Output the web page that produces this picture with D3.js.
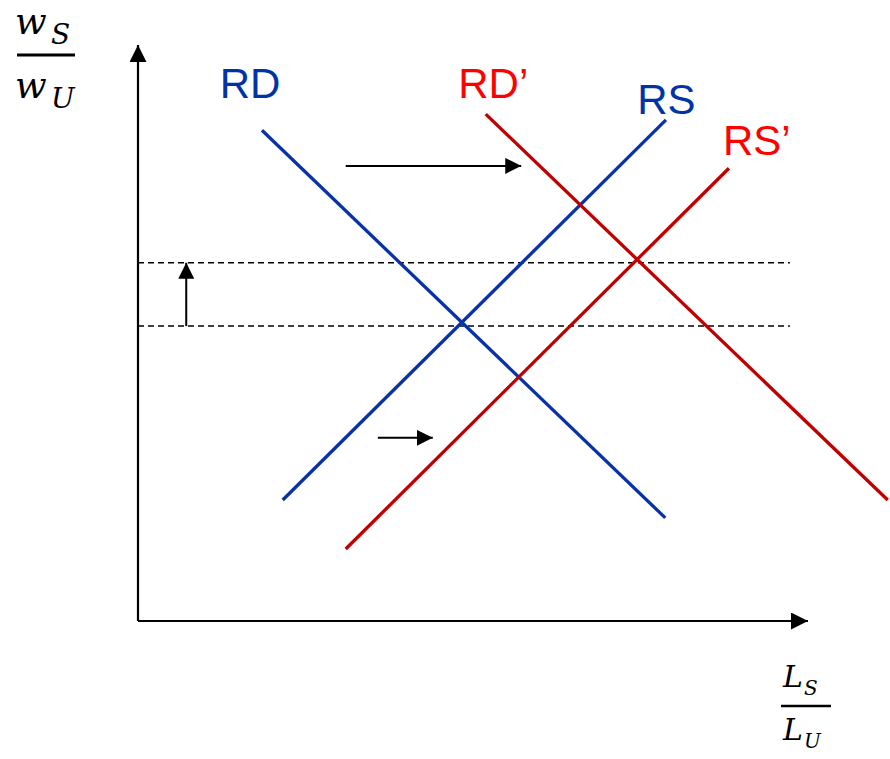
<!DOCTYPE html>
<html><head><meta charset="utf-8">
<script src="https://cdn.jsdelivr.net/npm/d3@7"></script>
<style>body{margin:0;background:#fff}svg{display:block}</style>
</head><body><svg id="c" width="890" height="759"></svg>
<script>
// ---- data (chart units) ----
const curveNames = ["RD", "RS", "RD’", "RS’"];
const curveStart = [[18.5, 85.2], [21.6, 21.0], [51.9, 88.0], [31.0, 12.5]];
const curveEnd   = [[78.7, 17.9], [78.8, 87.0], [111.9, 21.0], [88.2, 78.6]];
const curveGroup = ["before", "before", "after", "after"];
const labelAnchor = [[12.2, 90.8], [74.5, 88.0], [47.8, 90.8], [87.3, 80.9]];
const wageLevels = [51.2, 62.2];
const dashedExtent = [0, 97.3];
const shiftFrom = [[31.0, 79.0], [35.8, 31.8], [7.2, 51.2]];
const shiftTo   = [[57.2, 79.0], [44.0, 31.8], [7.2, 62.2]];

const lineColor = {before: "#0a32a8", after: "#c00000"};
const textColor = {before: "#0033a6", after: "#ff0000"};

const svg = d3.select("#c");
const x = d3.scaleLinear().domain([0, 100]).range([138, 808]);
const y = d3.scaleLinear().domain([0, 100]).range([621, 45]);

const defs = svg.append("defs");
function marker(id, len, wid) {
  defs.append("marker").attr("id", id)
    .attr("markerUnits", "userSpaceOnUse")
    .attr("viewBox", `0 0 ${len} ${wid}`)
    .attr("refX", len).attr("refY", wid / 2)
    .attr("markerWidth", len).attr("markerHeight", wid)
    .attr("orient", "auto")
    .append("path").attr("d", `M0,0L${len},${wid/2}L0,${wid}Z`).attr("fill", "#000");
}
marker("axhead", 17, 17);
marker("smhead", 16, 16);

const line = d3.line().x(d => x(d[0])).y(d => y(d[1]));

// axes
svg.append("path").attr("d", line([[0, 0], [0, 100]]))
  .attr("stroke", "#000").attr("stroke-width", 2.2).attr("fill", "none")
  .attr("marker-end", "url(#axhead)");
svg.append("path").attr("d", line([[0, 0], [100, 0]]))
  .attr("stroke", "#000").attr("stroke-width", 2.2).attr("fill", "none")
  .attr("marker-end", "url(#axhead)");

// dashed wage levels
svg.selectAll("path.lvl").data(wageLevels).join("path").attr("class", "lvl")
  .attr("d", v => line([[dashedExtent[0], v], [dashedExtent[1], v]]))
  .attr("stroke", "#000").attr("stroke-width", 1.5)
  .attr("stroke-dasharray", "6,4").attr("fill", "none");

// curves
svg.selectAll("path.curve").data(curveNames).join("path").attr("class", "curve")
  .attr("d", (d, i) => line([curveStart[i], curveEnd[i]]))
  .attr("stroke", (d, i) => lineColor[curveGroup[i]])
  .attr("stroke-width", 3.3).attr("fill", "none");

// shift arrows
svg.selectAll("path.shift").data(shiftFrom).join("path").attr("class", "shift")
  .attr("d", (d, i) => line([shiftFrom[i], shiftTo[i]]))
  .attr("stroke", "#000").attr("stroke-width", 2).attr("fill", "none")
  .attr("marker-end", "url(#smhead)");

// curve labels
svg.selectAll("text.lab").data(curveNames).join("text").attr("class", "lab")
  .attr("x", (d, i) => x(labelAnchor[i][0]))
  .attr("y", (d, i) => y(labelAnchor[i][1]))
  .attr("fill", (d, i) => textColor[curveGroup[i]])
  .attr("font-family", "Liberation Sans, Arial, sans-serif")
  .attr("font-size", 42)
  .text(d => d);

// axis titles (fractions)
function frac(g, top, bot, sub1, sub2, cfg) {
  const t = g.append("g").attr("font-family", "DejaVu Serif, serif").attr("font-style", "italic");
  t.append("text").attr("x", cfg.x).attr("y", cfg.y1).attr("font-size", cfg.fs).text(top);
  t.append("text").attr("x", cfg.sx).attr("y", cfg.y1 + cfg.dy).attr("font-size", cfg.sfs).text(sub1);
  t.append("line").attr("x1", cfg.bx1).attr("x2", cfg.bx2).attr("y1", cfg.by).attr("y2", cfg.by)
    .attr("stroke", "#000").attr("stroke-width", cfg.bw);
  t.append("text").attr("x", cfg.x).attr("y", cfg.y2).attr("font-size", cfg.fs).text(bot);
  t.append("text").attr("x", cfg.sx).attr("y", cfg.y2 + cfg.dy).attr("font-size", cfg.sfs).text(sub2);
}
frac(svg, "w", "w", "S", "U", {x: 15, sx: 51, y1: 34, y2: 98, dy: 10, fs: 37, sfs: 28, bx1: 17, bx2: 75, by: 55, bw: 3});
frac(svg, "L", "L", "S", "U", {x: 783, sx: 804, y1: 687, y2: 740, dy: 8, fs: 30, sfs: 20, bx1: 781, bx2: 831, by: 706, bw: 2.5});
</script>
</body></html>
